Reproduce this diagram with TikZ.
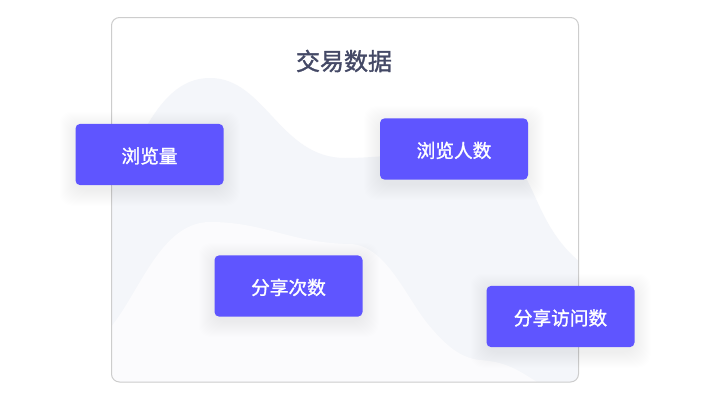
\documentclass[tikz,border=0pt]{standalone}
\usepackage{fontspec}
\setmainfont{Noto Sans CJK SC}
\newfontfamily\mediumcjk[FakeBold=1.4]{Noto Sans CJK SC}
\definecolor{boxblue}{HTML}{5F55FF}
\definecolor{titleink}{HTML}{444966}
\definecolor{wavedark}{HTML}{F4F6FA}
\definecolor{wavelight}{HTML}{FBFBFD}
\definecolor{cardline}{HTML}{CDCDCD}
\tikzset{
  tagbox/.style={fill=boxblue,draw=none,rounded corners=3.5pt,minimum width=111pt,minimum height=46pt,inner sep=0pt,
    text height=12.8pt,text depth=0pt,text=white,font=\fontsize{14}{16}\mediumcjk},
  softshade/.style={fill=black,fill opacity=0.0016,draw=none}
}
\begin{document}
\begin{tikzpicture}[x=0.75pt,y=-0.75pt]
        \useasboundingbox (0,0) rectangle (710,400);

        \coordinate (cardnw) at (111.5,17.5);
        \coordinate (cardse) at (578.5,382);

        % card shadow
        \foreach \i in {1,2,...,22}{
            \fill[softshade,rounded corners=14pt] (111.5-\i,17.5-\i) rectangle (578.5+\i,382+\i);
        }
        \fill[white,rounded corners=6pt] (cardnw) rectangle (cardse);

        % waves
        \begin{scope}
            \clip[rounded corners=6pt] (cardnw) rectangle (cardse);
            \fill[wavedark] (100,200) .. controls (135,170) and (150,78) .. (210,78)
                .. controls (265,78) and (280,158) .. (345,158)
                .. controls (420,158) and (505,130) .. (528,182)
                .. controls (540,205) and (550,240) .. (585,266)
                -- (585,390) -- (100,390) -- cycle;
            \fill[wavelight] (100,338) .. controls (135,310) and (155,222) .. (210,222)
                .. controls (265,222) and (290,243) .. (350,244)
                .. controls (385,245) and (405,295) .. (427,323)
                .. controls (445,345) and (460,358) .. (480,360)
                .. controls (505,362) and (515,368) .. (537,382)
                -- (537,390) -- (100,390) -- cycle;
        \end{scope}
        \draw[cardline,line width=0.75pt,rounded corners=6pt] (cardnw) rectangle (cardse);

        \node[font=\fontsize{18}{20}\mediumcjk,text=titleink] (title) at (344,61) {交易数据};

        % box shadows
        \foreach \cx/\cy in {149.5/154.5,454/149,288.5/286,560.5/316.5}{
            \foreach \i in {1,2,...,16}{
                \fill[softshade,fill opacity=0.0024,rounded corners=9pt] (\cx-74-\i,\cy-31-\i+4) rectangle (\cx+74+\i,\cy+31+\i+4);
            }
        }

        \node[tagbox] (views) at (149.5,154.5) {浏览量};
        \node[tagbox] (viewers) at (454,149) {浏览人数};
        \node[tagbox] (shares) at (288.5,286) {分享次数};
        \node[tagbox] (sharevisits) at (560.5,316.5) {分享访问数};

\end{tikzpicture}
\end{document}
